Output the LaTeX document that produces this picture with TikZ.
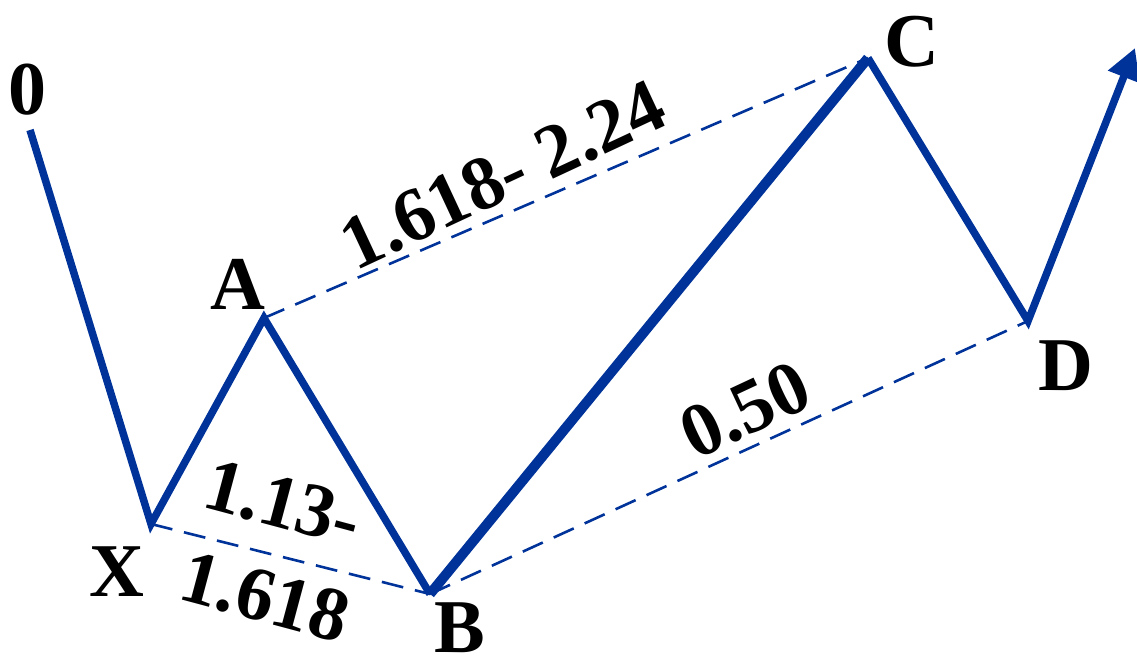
\documentclass[tikz,border=0pt]{standalone}
\usepackage{fontspec}
\setmainfont{Liberation Serif}
\usetikzlibrary{arrows.meta}
\definecolor{fibblue}{RGB}{0,51,153}
\begin{document}
\begin{tikzpicture}[x=1pt,y=-1pt,
  leg/.style={draw=fibblue,line width=7.5pt,line join=miter,line cap=butt},
  bigleg/.style={draw=fibblue,line width=10pt,line cap=butt},
  ratio/.style={draw=fibblue,line width=2.6pt,dash pattern=on 22pt off 12pt},
  lbl/.style={font=\bfseries\fontsize{76}{80}\selectfont,inner sep=0pt,text=black}]
\useasboundingbox (0,0) rectangle (1137,660);
\coordinate (O) at (30,130);
\coordinate (X) at (151,524);
\coordinate (A) at (264,318);
\coordinate (B) at (430,594);
\coordinate (C) at (868,58);
\coordinate (D) at (1028,321);
\coordinate (E) at (1135,48);
% ratio lines
\draw[ratio] (A) -- (C);
\draw[ratio] (X) -- (B);
\draw[ratio] (B) -- (D);
% pattern legs
\draw[leg] (O) -- (X) -- (A) -- (B);
\draw[bigleg] (B) -- (C);
\draw[leg,-{Triangle[length=31pt,width=32pt]}] (C) -- (D) -- (E);
% point labels
\node[lbl] (l0) at (28,90) {0};
\node[lbl] (lA) at (238,284) {A};
\node[lbl] (lX) at (117,572) {X};
\node[lbl] (lB) at (460,628) {B};
\node[lbl] (lC) at (912,42) {C};
\node[lbl] (lD) at (1066,366) {D};
% ratio labels
\node[lbl,rotate=25] (rAC) at (503,175) {1.618- 2.24};
\node[lbl,rotate=25] (rBD) at (745,410) {0.50};
\node[lbl,rotate=-15] (rXB1) at (283,503) {1.13-};
\node[lbl,rotate=-15] (rXB2) at (265,597) {1.618};
\end{tikzpicture}
\end{document}
